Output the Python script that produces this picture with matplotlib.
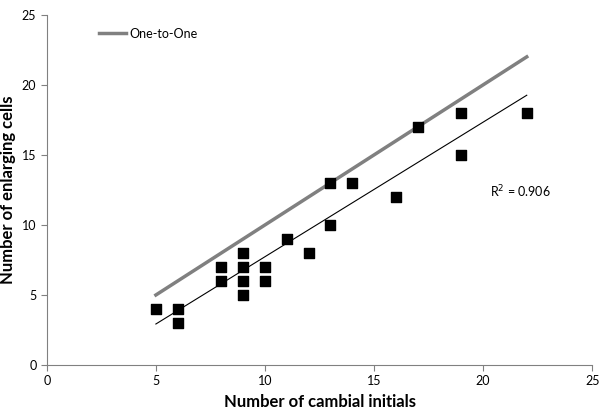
import matplotlib
matplotlib.use('Agg')
import matplotlib.pyplot as plt
import numpy as np

plt.rcParams['font.family'] = ['Lato', 'DejaVu Sans']

# data
initials = [5, 6, 6, 8, 8, 9, 9, 9, 9, 10, 10, 11, 12, 13, 13, 14, 16, 17, 19, 19, 22]
enlarging = [4, 4, 3, 7, 6, 8, 7, 6, 5, 7, 6, 9, 8, 13, 10, 13, 12, 17, 18, 15, 18]
one_to_one_x = [5, 22]

x = np.array(initials, dtype=float)
y = np.array(enlarging, dtype=float)
slope, icpt = np.polyfit(x, y, 1)
fit_x = np.array([min(initials), max(initials)], dtype=float)

fig = plt.figure(figsize=[6, 4.12], dpi=100)
ax = fig.add_axes([0.078, 0.114, 0.909, 0.85])

ax.plot(one_to_one_x, one_to_one_x, color='#808080', lw=2.5, label='One-to-One')
ax.plot(fit_x, slope * fit_x + icpt, color='black', lw=0.8)
ax.scatter(x, y, marker='s', s=55, color='black', zorder=3)

ax.text(20.3, 12.0, 'R$^2$ = 0.906', fontsize=9)

ax.set_xlim(0, 25)
ax.set_ylim(0, 25)
ax.set_xticks(range(0, 26, 5))
ax.set_yticks(range(0, 26, 5))
ax.tick_params(labelsize=9, direction='out', color='#808080', length=4)
for side in ['top', 'right']:
    ax.spines[side].set_visible(False)
for side in ['left', 'bottom']:
    ax.spines[side].set_color('#808080')

ax.set_xlabel('Number of cambial initials', fontsize=12, fontweight='bold', labelpad=5)
ax.set_ylabel('Number of enlarging cells', fontsize=12, fontweight='bold')

ax.legend(loc='upper left', bbox_to_anchor=(0.075, 0.995), frameon=False,
          fontsize=9, handlelength=2.2, handletextpad=0.2)

fig.savefig('out.png', dpi=100)
